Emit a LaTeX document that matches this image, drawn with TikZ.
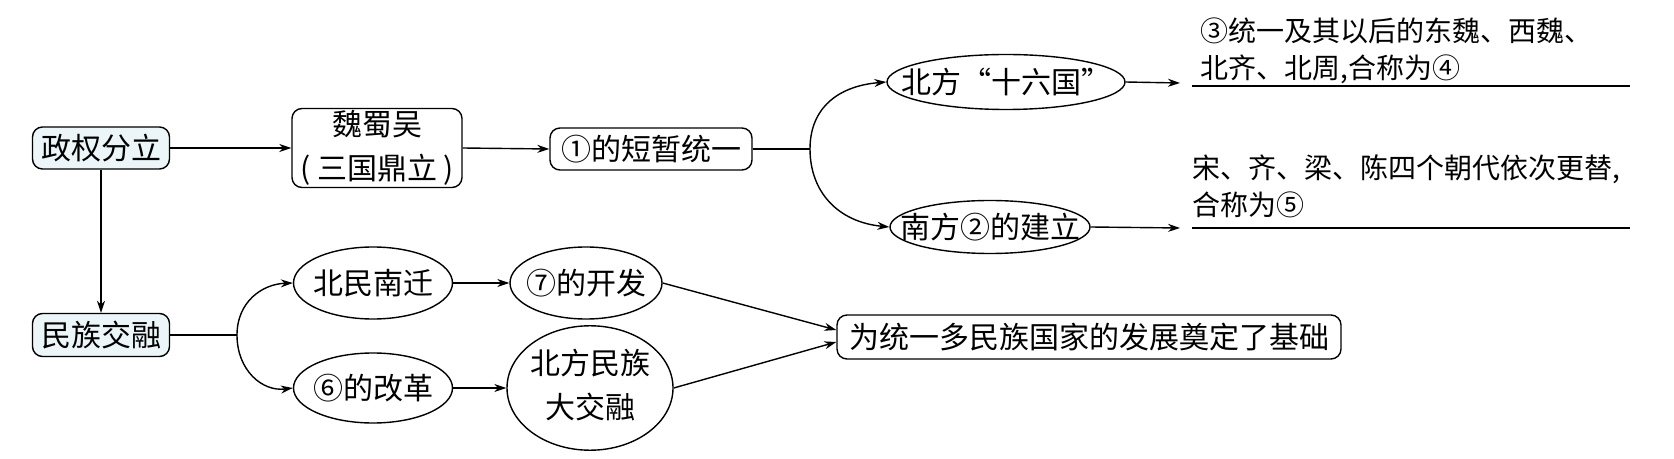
\documentclass[tikz,border=0pt]{standalone}
\usepackage{fontspec}
\setmainfont{Noto Sans CJK SC}
\usetikzlibrary{arrows.meta,shapes.geometric}
\definecolor{lb}{RGB}{236,246,248}
\tikzset{
 rbox/.style={draw, rounded corners=5pt, line width=0.7pt, inner sep=0pt, align=center},
 ell/.style={draw, ellipse, line width=0.7pt, inner sep=0pt},
 arr/.style={line width=0.7pt, -{Stealth[length=6pt,width=4pt]}},
 ln/.style={line width=0.7pt},
 note/.style={anchor=south west, align=left, inner sep=0pt}
}
\newcommand{\zw}[1]{\makebox[0pt]{#1}}
\begin{document}
\begin{tikzpicture}[x=0.5pt,y=0.5pt,font=\fontsize{15}{18}\selectfont]
\useasboundingbox (0,0) rectangle (1674,-459);
% top row
\node[rbox, fill=lb, minimum width=68.5pt, minimum height=21pt] (zq) at (101,-148) {政权分立};
\node[rbox, minimum width=85pt, minimum height=39.5pt, font=\fontsize{15}{22}\selectfont] (wsw) at (377,-148) {魏蜀吴\\( 三国鼎立 )};
\node[rbox, minimum width=101pt, minimum height=21pt] (ty) at (651,-149) {①的短暂统一};
\coordinate (br) at (810,-149);
\node[ell, minimum width=119pt, minimum height=27.5pt] (nb) at (1006,-82) {\zw{北方“十六国”}};
\node[ell, minimum width=100pt, minimum height=26.5pt] (ns) at (990,-227) {\zw{南方②的建立}};
\coordinate (u1) at (1180,-83);
\coordinate (u1a) at (1192,-86);
\coordinate (u1b) at (1630,-86);
\coordinate (u2) at (1180,-228);
\coordinate (u2a) at (1192,-228);
\coordinate (u2b) at (1630,-228);
\node[note, font=\fontsize{14}{18.5}\selectfont] (t1) at (1200,-84) {③统一及其以后的东魏、西魏、\\北齐、北周,合称为④};
\node[note, font=\fontsize{14}{18.5}\selectfont] (t2) at (1192,-218) {宋、齐、梁、陈四个朝代依次更替,\\合称为⑤};
% bottom
\node[rbox, fill=lb, minimum width=68.5pt, minimum height=21.5pt] (mz) at (101,-335) {民族交融};
\coordinate (br2) at (237,-335);
\node[ell, minimum width=79.5pt, minimum height=36pt] (bm) at (373,-283) {\zw{北民南迁}};
\node[ell, minimum width=76pt, minimum height=36pt] (d7) at (586,-283) {\zw{⑦的开发}};
\node[ell, minimum width=79.5pt, minimum height=35pt] (g6) at (373,-388) {\zw{⑥的改革}};
\node[ell, minimum width=83pt, minimum height=55.5pt] (dj) at (590,-388) {\zw{\fontsize{15}{22}\selectfont\begin{tabular}{@{}c@{}}北方民族\\大交融\end{tabular}}};
\node[rbox, minimum width=252pt, minimum height=22pt] (jc) at (1089,-337) {为统一多民族国家的发展奠定了基础};
% connectors
\draw[arr] (zq.east) -- (wsw.west |- zq.east);
\draw[arr] (wsw.east) -- (ty.west);
\draw[ln] (ty.east) -- (br);
\draw[arr] (br) .. controls (810,-108) and (838,-86) .. (nb.west);
\draw[arr] (br) .. controls (810,-192) and (838,-222) .. (ns.west);
\draw[arr] (nb.east) -- (u1);
\draw[ln] (u1a) -- (u1b);
\draw[arr] (ns.east) -- (u2);
\draw[ln] (u2a) -- (u2b);
\draw[arr] (zq.south) -- (mz.north);
\draw[ln] (mz.east) -- (br2);
\draw[arr] (br2) .. controls (237,-302) and (262,-284) .. (bm.west);
\draw[arr] (br2) .. controls (237,-370) and (262,-392) .. (g6.west);
\draw[arr] (bm.east) -- (d7.west);
\draw[arr] (g6.east) -- (dj.west);
\draw[arr] (d7.east) -- ([yshift=3.5pt]jc.west);
\draw[arr] (dj.east) -- ([yshift=-2.5pt]jc.west);
\end{tikzpicture}
\end{document}
